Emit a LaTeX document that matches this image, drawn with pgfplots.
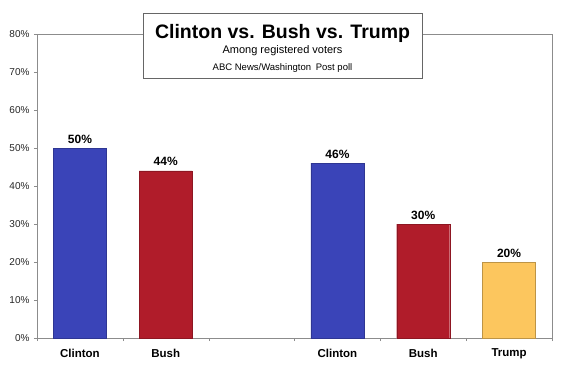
\documentclass[border=0pt]{standalone}
\usepackage{pgfplots}
\pgfplotsset{compat=1.18}
\usepackage{fontspec}
\setmainfont{Liberation Sans}
\definecolor{cblue}{RGB}{58,68,184}
\definecolor{cred}{RGB}{176,28,42}
\definecolor{cyel}{RGB}{252,198,94}
\definecolor{axgray}{RGB}{140,140,140}
\begin{document}
\begin{tikzpicture}[x=1pt,y=1pt]
\path[use as bounding box] (-37,-27) rectangle (533,338);
\begin{axis}[at={(0,0)}, anchor=south west, scale only axis,
  width=515pt, height=304pt,
  xmin=-0.5, xmax=5.5, ymin=0, ymax=80,
  axis line style={draw=axgray},
  tick style={draw=axgray},
  tick align=outside, xtick pos=left, ytick pos=left,
  major tick length=3pt, minor tick length=3pt,
  ytick={0,10,...,80},
  yticklabel={\pgfmathprintnumber{\tick}\%},
  /pgf/number format/assume math mode=true,
  yticklabel style={font=\fontsize{10}{12}\selectfont, color=black!85, xshift=-1pt},
  xtick={0,1,3,4,5},
  xticklabels={Clinton,Bush,Clinton,Bush,Trump},
  major x tick style={draw=none},
  minor xtick={-0.5,0.5,1.5,2.5,3.5,4.5,5.5},
  xticklabel style={font=\bfseries\fontsize{11.5}{13}\selectfont, yshift=-4.5pt},
  ybar, bar width=53pt,
  nodes near coords={\pgfmathprintnumber{\pgfplotspointmeta}\%},
  nodes near coords style={font=\bfseries\fontsize{12}{14}\selectfont, anchor=base, yshift=5pt},
]
\addplot[bar shift=0pt, fill=cblue, draw=cblue!80!black] coordinates {(0,50) (3,46)};
\addplot[bar shift=0pt, fill=cred, draw=cred!80!black] coordinates {(1,44) (4,30)};
\addplot[bar shift=0pt, fill=cyel, draw=cyel!75!black] coordinates {(5,20)};
\end{axis}
\draw[black!60, fill=white] (106,260) rectangle (385,325);
\node[anchor=base, inner sep=0pt, font=\bfseries\fontsize{19.5}{22}\selectfont] at (245.5,300) {Clinton vs. Bush vs. Trump};
\node[anchor=base, inner sep=0pt, font=\fontsize{11}{13}\selectfont] at (245.5,284) {Among registered voters};
\node[anchor=base, inner sep=0pt, font=\fontsize{9.5}{11}\selectfont] at (245.5,268) {ABC News/Washington\hspace{0.5em}Post poll};
\end{tikzpicture}
\end{document}
